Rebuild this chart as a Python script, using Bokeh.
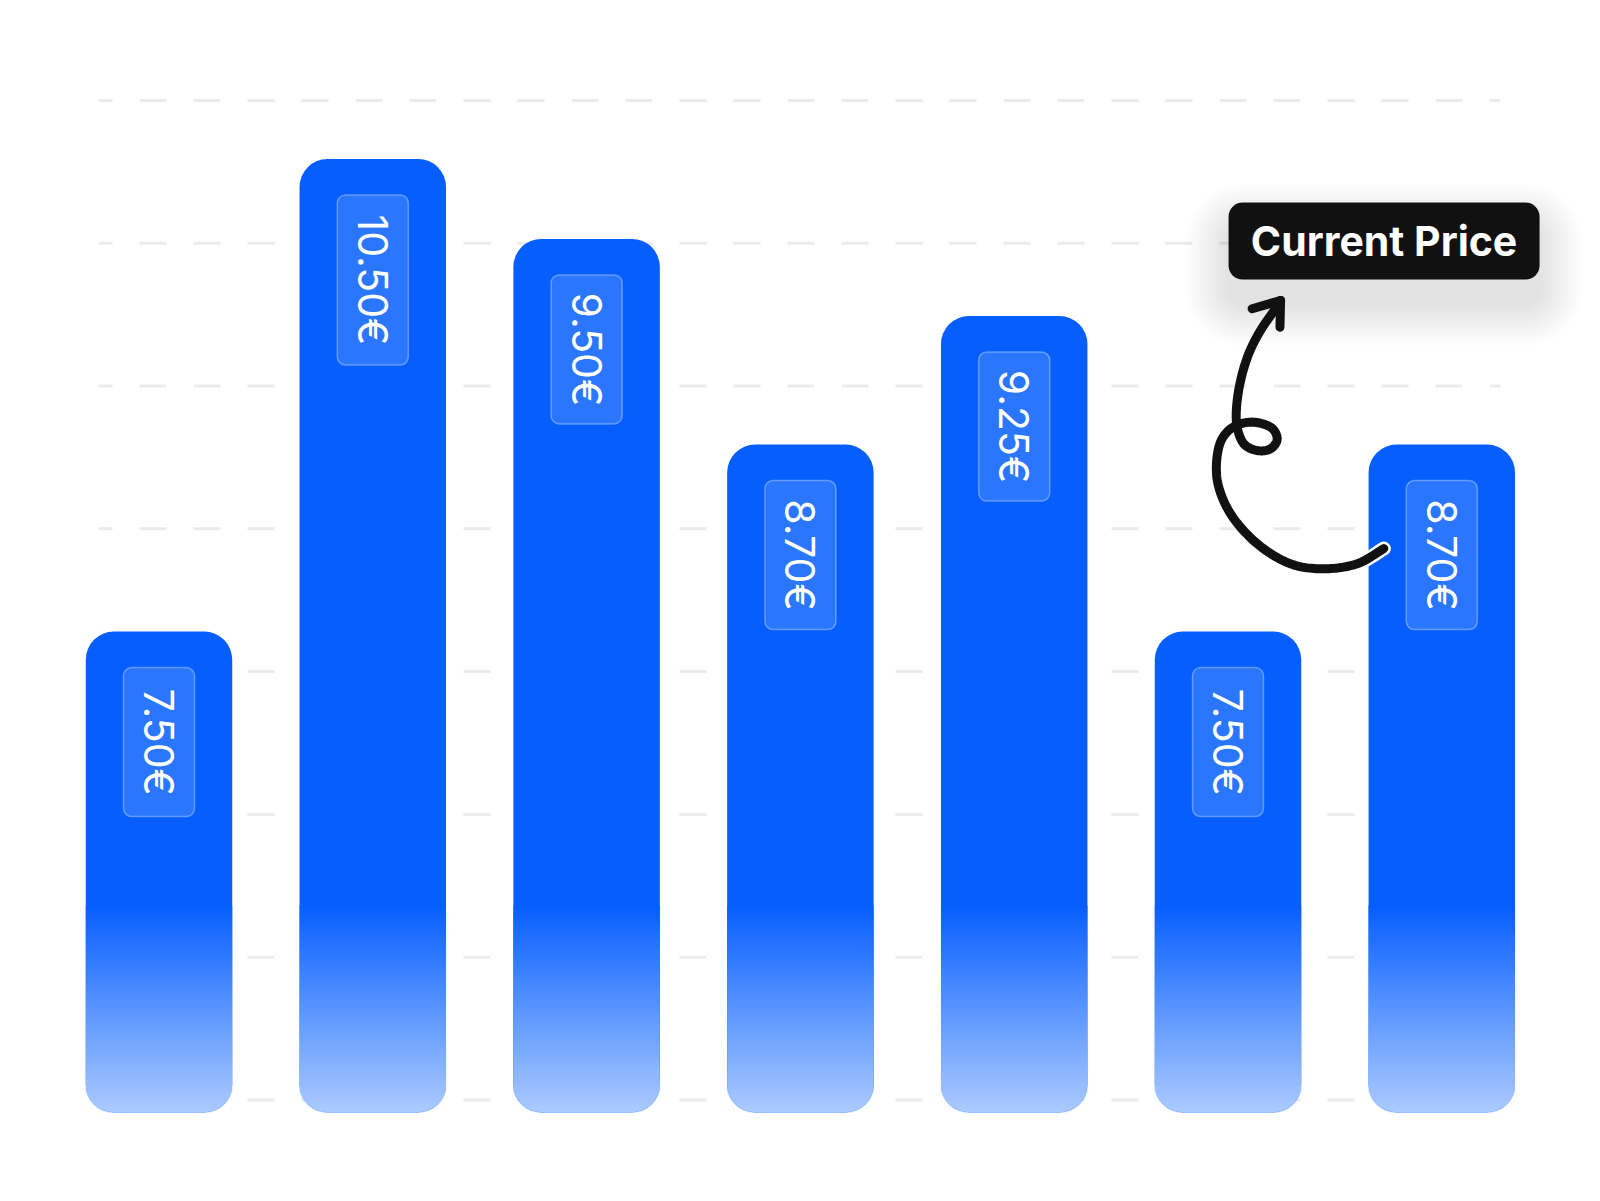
import numpy as np
from bokeh.plotting import figure
from bokeh.models import Range1d
from bokeh.core.properties import value
from bokeh.embed import file_html
from bokeh.resources import INLINE

# ---------------- data ----------------
bar_index = [0, 1, 2, 3, 4, 5, 6]
prices = [7.50, 10.50, 9.50, 8.70, 9.25, 7.50, 8.70]
price_labels = [f"{v:.2f}€" for v in prices]
# bar heights as drawn in the picture (in grid-line units, grid line 0 = bottom line)
bar_tops = [3.28, 6.59, 6.03, 4.59, 5.49, 3.28, 4.59]
grid_levels = [0, 1, 2, 3, 4, 5, 6, 7]
callout_text = "Current Price"
callout_center = (5.73, 6.015)
# hand-drawn arrow path (data units), from the last bar up to the callout
arrow_x = [5.729, 5.604, 5.448, 5.292, 5.137, 5.012, 4.950, 4.957, 5.012, 5.105,
           5.199, 5.230, 5.199, 5.137, 5.074, 5.043, 5.040, 5.059, 5.097, 5.152,
           5.222, 5.246]
arrow_y = [3.862, 3.755, 3.720, 3.755, 3.895, 4.105, 4.338, 4.571, 4.700, 4.747,
           4.712, 4.630, 4.560, 4.548, 4.595, 4.712, 4.852, 5.039, 5.226, 5.389,
           5.541, 5.599]
arrow_head_x = [[5.113, 5.246], [5.246, 5.243]]
arrow_head_y = [[5.541, 5.599], [5.599, 5.412]]

# ---------------- scale constants (px per data unit) ----------------
PX_X = 213.8
PX_Y = 142.8
BASE = -0.0875          # bar bottom
BAR_W = 0.685
BAR_COLOR = "#065EFF"
RADIUS = 28
FIG_W, FIG_H = 1584, 1185
X0 = -158.5 / PX_X
Y1 = 1099.5 / PX_Y

p = figure(width=FIG_W, height=FIG_H,
           x_range=Range1d(X0, X0 + FIG_W / PX_X), y_range=Range1d(Y1 - FIG_H / PX_Y, Y1),
           output_backend="svg", toolbar_location=None, tools="",
           min_border=0, x_axis_location=None, y_axis_location=None,
           outline_line_color=None, background_fill_color="white",
           border_fill_color="white")
for g in p.grid:
    g.visible = False

# dashed grid lines
gx0, gx1 = -0.283, 6.2745
p.multi_line(xs=[[gx0, gx1] for _ in grid_levels], ys=[[g, g] for g in grid_levels],
             line_color="#EBEBEB", line_width=3, line_dash="27 27", line_dash_offset=13)

# bars
p.vbar(x=bar_index, top=bar_tops, bottom=BASE, width=BAR_W, fill_color=BAR_COLOR,
       line_color=None, border_radius=RADIUS)

# bottom gradient overlay (image with rounded bottom corners)
G_H_PX = 207.0
W_PX = BAR_W * PX_X
S = 2
w = int(round(W_PX * S)); h = int(round(G_H_PX * S))
u = (np.arange(w) + 0.5) / S
v = (np.arange(h) + 0.5) / S
U, V = np.meshgrid(u, v)
f = np.clip(1 - V / G_H_PX, 0, 1)
c_bottom = np.array([172, 203, 255], dtype=float)
c_top = np.array([6, 94, 255], dtype=float)
dx = np.where(U < RADIUS, RADIUS - U, np.where(U > W_PX - RADIUS, U - (W_PX - RADIUS), 0.0))
dy = np.where(V < RADIUS, RADIUS - V, 0.0)
d = np.sqrt(dx ** 2 + dy ** 2)
alpha = np.where((dx > 0) & (dy > 0), np.clip(RADIUS + 0.8 - d, 0, 1), 1.0)
img = np.empty((h, w), dtype=np.uint32)
view = img.view(dtype=np.uint8).reshape((h, w, 4))
for k in range(3):
    view[..., k] = np.round(c_top[k] + (c_bottom[k] - c_top[k]) * f).astype(np.uint8)
view[..., 3] = np.round(alpha * 255).astype(np.uint8)
p.image_rgba(image=[img] * len(bar_index),
             x=[i - BAR_W / 2 for i in bar_index], y=[BASE] * len(bar_index),
             dw=W_PX / PX_X, dh=G_H_PX / PX_Y)

# label boxes + rotated labels
BOX_W_PX = 71
box_h_px = [21 * len(s) + 44 for s in price_labels]
box_top = [tp - 36 / PX_Y for tp in bar_tops]
box_bot = [bt - hh / PX_Y for bt, hh in zip(box_top, box_h_px)]
p.quad(left=[i - BOX_W_PX / 2 / PX_X for i in bar_index],
       right=[i + BOX_W_PX / 2 / PX_X for i in bar_index],
       top=box_top, bottom=box_bot,
       fill_color="white", fill_alpha=0.15, line_color="white", line_alpha=0.32,
       line_width=1.5, border_radius=8)
p.text(x=bar_index, y=[(a + b) / 2 for a, b in zip(box_top, box_bot)], text=price_labels,
       angle=-np.pi / 2, text_align="center", text_baseline="middle",
       text_font=value("Inter"), text_font_size="41px", text_color="white")

# callout shadow
cx, cy = callout_center
CW, CH = 311, 77
sh_cy = cy - 24 / PX_Y
for k in range(1, 15):
    e = 3 * k
    p.quad(left=[cx - (CW / 2 + e) / PX_X], right=[cx + (CW / 2 + e) / PX_X],
           top=[sh_cy + (CH / 2 + e) / PX_Y], bottom=[sh_cy - (CH / 2 + e) / PX_Y],
           fill_color="black", fill_alpha=0.007, line_color=None, border_radius=int(14 + e))

# callout box
p.quad(left=[cx - CW / 2 / PX_X], right=[cx + CW / 2 / PX_X],
       top=[cy + CH / 2 / PX_Y], bottom=[cy - CH / 2 / PX_Y],
       fill_color="#111111", line_color=None, border_radius=14)
p.text(x=[cx], y=[cy], text=[callout_text], text_align="center", text_baseline="middle",
       text_font=value("Inter"), text_font_style="bold", text_font_size="41px",
       text_color="white")

# arrow (smoothed through the traced points)
def catmull(xs, ys, n=14):
    P = np.column_stack([xs, ys])
    P = np.vstack([P[0], P, P[-1]])
    out = []
    for i in range(1, len(P) - 2):
        p0, p1, p2, p3 = P[i - 1], P[i], P[i + 1], P[i + 2]
        for s in np.linspace(0, 1, n, endpoint=False):
            s2, s3 = s * s, s * s * s
            out.append(0.5 * ((2 * p1) + (-p0 + p2) * s + (2 * p0 - 5 * p1 + 4 * p2 - p3) * s2
                              + (-p0 + 3 * p1 - 3 * p2 + p3) * s3))
    out.append(P[-2])
    out = np.array(out)
    return out[:, 0], out[:, 1]

ax, ay = catmull(arrow_x, arrow_y)
p.line(ax[:40], ay[:40], line_color="white", line_width=14, line_cap="round", line_join="round")
p.line(ax, ay, line_color="#111111", line_width=9, line_cap="round", line_join="round")
p.multi_line(xs=arrow_head_x, ys=arrow_head_y, line_color="#111111", line_width=9,
             line_cap="round", line_join="round")

open("out.html", "w").write(file_html(p, INLINE))
